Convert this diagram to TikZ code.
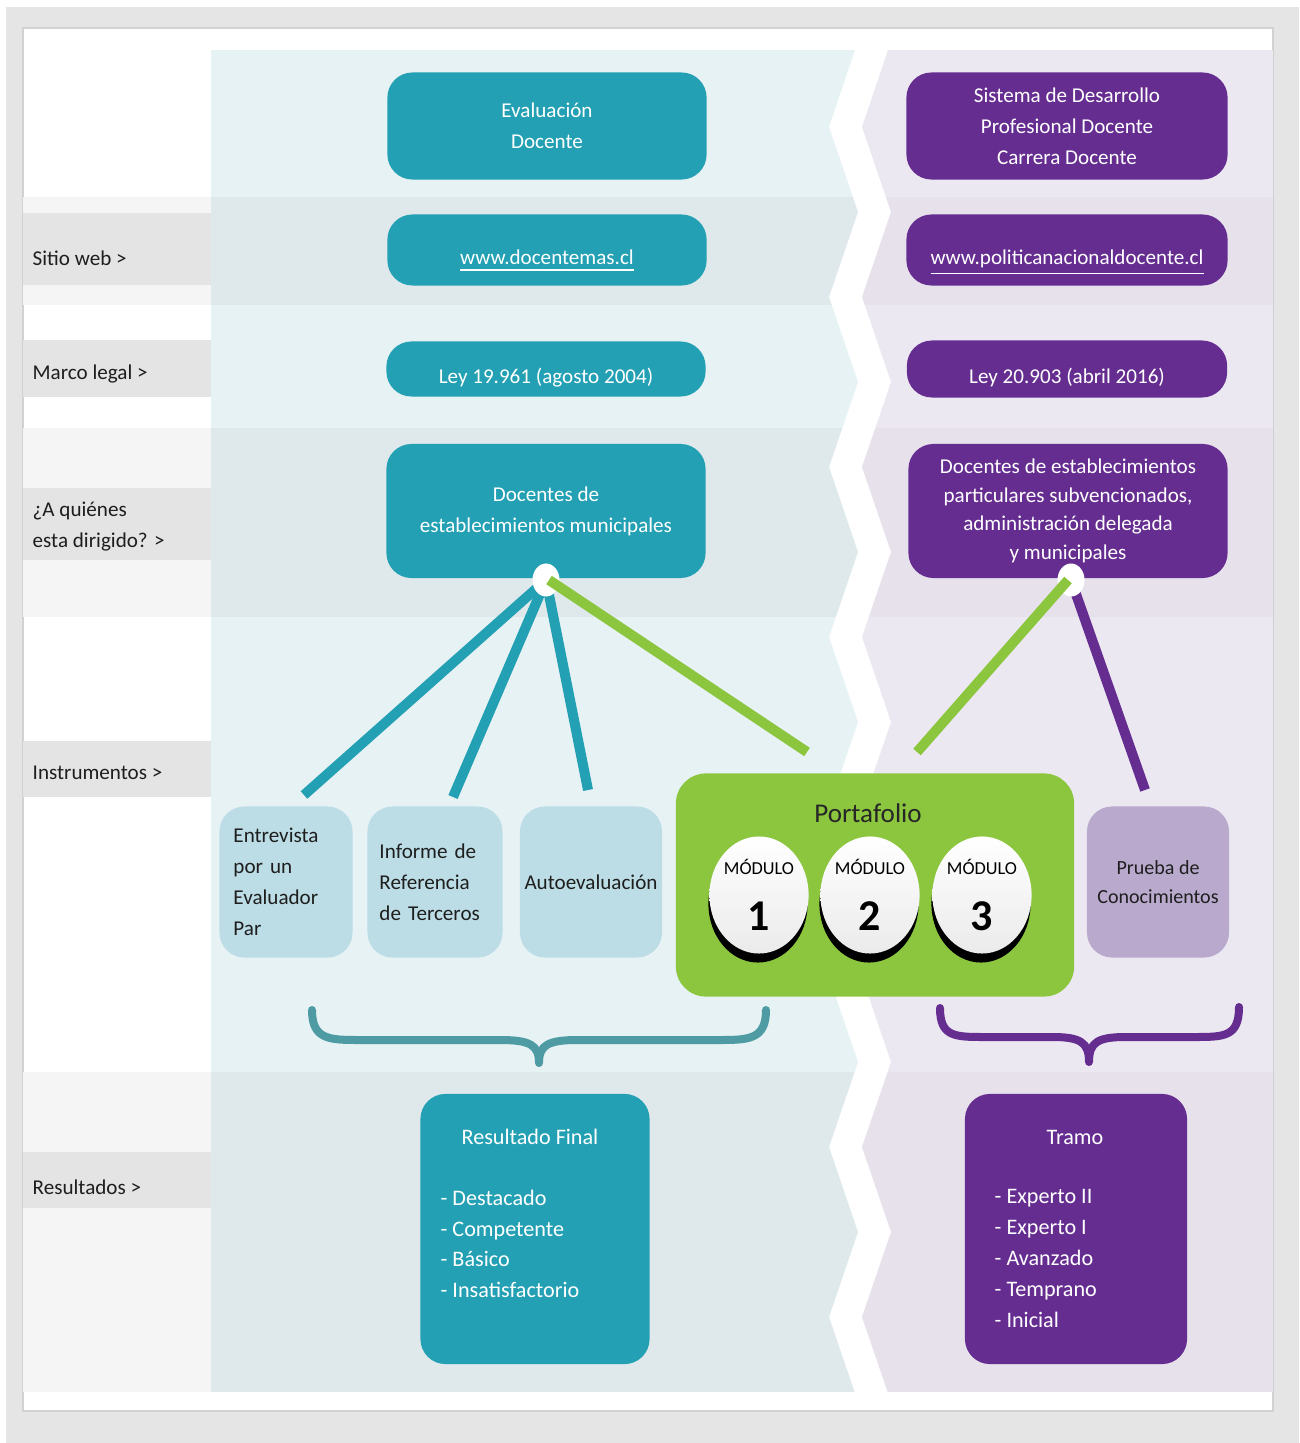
\documentclass[tikz,border=0pt]{standalone}
\usepackage{fontspec}
\setmainfont{Carlito}
\usepackage{tikz}
\usetikzlibrary{positioning,shapes.geometric,shadows}

\definecolor{tealc}{HTML}{23A0B3}
\definecolor{purpc}{HTML}{662D91}
\definecolor{greenc}{HTML}{8CC63F}
\definecolor{ltblue}{HTML}{BCDDE6}
\definecolor{ltpurp}{HTML}{B9AACD}
\definecolor{bractc}{HTML}{4E9BA3}
\definecolor{cyL}{HTML}{E7F2F5}
\definecolor{cyD}{HTML}{DFE9EC}
\definecolor{puL}{HTML}{ECE8F2}
\definecolor{puD}{HTML}{E6E1EA}
\definecolor{gyL}{HTML}{F5F5F5}
\definecolor{gyD}{HTML}{E4E4E4}
\definecolor{outgy}{HTML}{E5E5E5}
\definecolor{inktxt}{HTML}{1E1E1E}

\tikzset{
  tealbx/.style={fill=tealc, text=white, rounded corners=0.25cm, align=center,
    inner sep=0pt, font=\fontsize{6}{8.8}\selectfont},
  purpbx/.style={tealbx, fill=purpc},
  low/.style={text height=1.05em, text depth=0.2em},
  instbx/.style={fill=ltblue, text=inktxt, rounded corners=0.25cm, inner sep=0pt,
    minimum height=1.51cm, font=\fontsize{6}{8.8}\selectfont},
  lbl/.style={anchor=west, text=inktxt, align=left, inner sep=0pt,
    font=\fontsize{6}{8.8}\selectfont},
  boxtxt/.style={text=white, inner sep=0pt, font=\fontsize{6.3}{8.8}\selectfont},
  dot/.style={ellipse, fill=white, minimum width=0.27cm, minimum height=0.33cm, inner sep=0pt},
  modulo/.style={ellipse, top color=white, bottom color=black!8, minimum width=0.92cm,
    minimum height=1.17cm, inner sep=0pt, align=center, text=black,
    general shadow={fill=black, shadow yshift=-0.09cm, shadow xshift=-0.01cm}},
  tline/.style={draw=tealc, line width=0.1cm},
  gline/.style={draw=greenc, line width=0.1cm},
  pline/.style={draw=purpc, line width=0.1cm},
  brace/.style={line width=0.08cm, line cap=round, line join=round}
}

\begin{document}
\begin{tikzpicture}[x=0.01cm, y=-0.01cm]

\useasboundingbox (0,0) rectangle (1299,1443);
\fill[white] (0,0) rectangle (1299,1443);
\fill[outgy] (6,7) rectangle (1299,1443);
\draw[fill=white, draw=black!18, line width=0.02cm] (23,28) rectangle (1273,1411);

%%%%%%%%%%%%%%%%%%%%%%%%%%%%%%%
% left column bands
\fill[gyL] (23,197) rectangle (211,305);
\fill[gyL] (23,428) rectangle (211,617);
\fill[gyL] (23,1072) rectangle (211,1392);
\foreach \ya/\yb in {213/285, 340/397, 488/560, 741/797, 1152/1208}
  \fill[gyD] (23,\ya) rectangle (211,\yb);

% teal side
\begin{scope}
\clip (211,50) -- (855,50)
  \foreach \k in {0,...,7}{ -- (829,{127+170*\k}) -- (858,{212+170*\k}) }
  -- (211,1402) -- cycle;
\foreach \ya/\yb/\c in {50/197/cyL, 197/305/cyD, 305/428/cyL, 428/617/cyD, 617/1072/cyL, 1072/1392/cyD}
  \fill[\c] (211,\ya) rectangle (900,\yb);
\end{scope}

% purple side
\begin{scope}
\clip (1273,50) -- (888,50)
  \foreach \k in {0,...,7}{ -- (862,{127+170*\k}) -- (891,{212+170*\k}) }
  -- (1273,1402) -- cycle;
\foreach \ya/\yb/\c in {50/197/puL, 197/305/puD, 305/428/puL, 428/617/puD, 617/1072/puL, 1072/1392/puD}
  \fill[\c] (800,\ya) rectangle (1273,\yb);
\end{scope}

%%%%%%%%%%%%%%%%%%%%%%%%%%%%%%%
\node[lbl] (lSitio) at (32,258) {Sitio web \textgreater};
\node[lbl] (lMarco) at (32,374) {Marco legal \textgreater};
\node[lbl] (lQuien) at (32,527) {¿A quiénes\\esta dirigido? \textgreater};
\node[lbl] (lInstr) at (32,773) {Instrumentos \textgreater};
\node[lbl] (lResul) at (32,1187) {Resultados \textgreater};

%%%%%%%%%%%%%%%%%%%%%%%%%%%%%%%
\node[tealbx, minimum width=3.19cm, minimum height=1.07cm] (evalA) at (547,126) {Evaluación\\Docente};
\node[purpbx, minimum width=3.21cm, minimum height=1.07cm] (sdpd) at (1067,126)
  {Sistema de Desarrollo\\Profesional Docente\\Carrera Docente};

\node[tealbx, low, minimum width=3.19cm, minimum height=0.71cm] (webA) at (547,250) {\underline{www.docentemas.cl}};
\node[purpbx, low, minimum width=3.21cm, minimum height=0.71cm] (webB) at (1067,250) {\underline{www.politicanacionaldocente.cl}};

\node[tealbx, low, minimum width=3.19cm, minimum height=0.55cm] (leyA) at (546,369) {Ley 19.961 (agosto 2004)};
\node[purpbx, low, minimum width=3.20cm, minimum height=0.57cm] (leyB) at (1067,369) {Ley 20.903 (abril 2016)};

\node[tealbx, minimum width=3.19cm, minimum height=1.34cm] (quienA) at (546,511)
  {Docentes de\\establecimientos municipales};
\node[purpbx, minimum width=3.19cm, minimum height=1.34cm, font=\fontsize{6}{8.1}\selectfont] (quienB) at (1068,511)
  {Docentes de establecimientos\\particulares subvencionados,\\administración delegada\\y municipales};

%%%%%%%%%%%%%%%%%%%%%%%%%%%%%%%
% instrumentos
\node[instbx, minimum width=1.33cm, text width=1.05cm, align=left] (entr) at (286,882) {Entrevista\\por un\\Evaluador\\Par};
\node[instbx, minimum width=1.35cm, text width=1.11cm, align=left] (infor) at (435,882) {Informe de\\Referencia\\de Terceros};
\node[instbx, minimum width=1.42cm, align=center] (auto) at (591,882) {Autoevaluación};
\node[instbx, fill=ltpurp, minimum width=1.42cm, align=center, font=\fontsize{5.7}{8.3}\selectfont] (prueba) at (1158,882) {Prueba de\\Conocimientos};

\node[fill=greenc, rounded corners=0.3cm, minimum width=3.98cm, minimum height=2.23cm] (porta) at (875,885) {};
\node[text=black!85, inner sep=0pt, font=\fontsize{7.7}{9}\selectfont] (portaT) at (868,813) {Portafolio};
\foreach \n/\x in {1/759, 2/870, 3/982}
  \node[modulo] (mod\n) at (\x,895)
    {{\fontsize{5.2}{6}\selectfont MÓDULO}\\[4pt]{\fontsize{12.5}{13}\selectfont\bfseries \n}};

%%%%%%%%%%%%%%%%%%%%%%%%%%%%%%%
% connectors
\coordinate (hubA) at (546,580);
\coordinate (hubB) at (1071,580);
\coordinate (eEnt) at (304,795);
\coordinate (eInf) at (453,797);
\coordinate (eAut) at (588,790);
\coordinate (ePorA) at (807,752);
\coordinate (ePorB) at (917,752);
\coordinate (ePru) at (1145,790);

\draw[tline] (hubA) -- (eEnt);
\draw[tline] (hubA) -- (eInf);
\draw[tline] (hubA) -- (eAut);
\draw[pline] (hubB) -- (ePru);
\node[dot] (dotA) at (hubA) {};
\node[dot] (dotB) at (hubB) {};
\draw[gline] ([xshift=0.03cm]dotA.center) -- (ePorA);
\draw[gline] ([xshift=-0.03cm]dotB.center) -- (ePorB);

%%%%%%%%%%%%%%%%%%%%%%%%%%%%%%%
% braces
\draw[brace, bractc] (312,1010) .. controls (312,1040) and (330,1040) .. (360,1040) -- (500,1040)
  .. controls (530,1040) and (539,1045) .. (539,1063) .. controls (539,1045) and (548,1040) .. (578,1040)
  -- (718,1040) .. controls (748,1040) and (766,1040) .. (766,1010);
\draw[brace, purpc] (940,1008) .. controls (940,1037) and (955,1037) .. (985,1037) -- (1052,1037)
  .. controls (1080,1037) and (1089,1042) .. (1089,1062) .. controls (1089,1042) and (1098,1037) .. (1126,1037)
  -- (1194,1037) .. controls (1224,1037) and (1239,1037) .. (1239,1007);

%%%%%%%%%%%%%%%%%%%%%%%%%%%%%%%
% resultados
\node[tealbx, minimum width=2.29cm, minimum height=2.70cm] (resA) at (535,1229) {};
\node[purpbx, minimum width=2.22cm, minimum height=2.70cm] (resB) at (1076,1229) {};
\node[boxtxt] (resAt) at (530,1137) {Resultado Final};
\node[boxtxt] (resBt) at (1075,1137) {Tramo};
\node[boxtxt, align=left, anchor=north west] (resAl) at (440,1189)
  {- Destacado\\- Competente\\- Básico\\- Insatisfactorio};
\node[boxtxt, align=left, anchor=north west] (resBl) at (994,1189)
  {- Experto II\\- Experto I\\- Avanzado\\- Temprano\\- Inicial};

\end{tikzpicture}
\end{document}
